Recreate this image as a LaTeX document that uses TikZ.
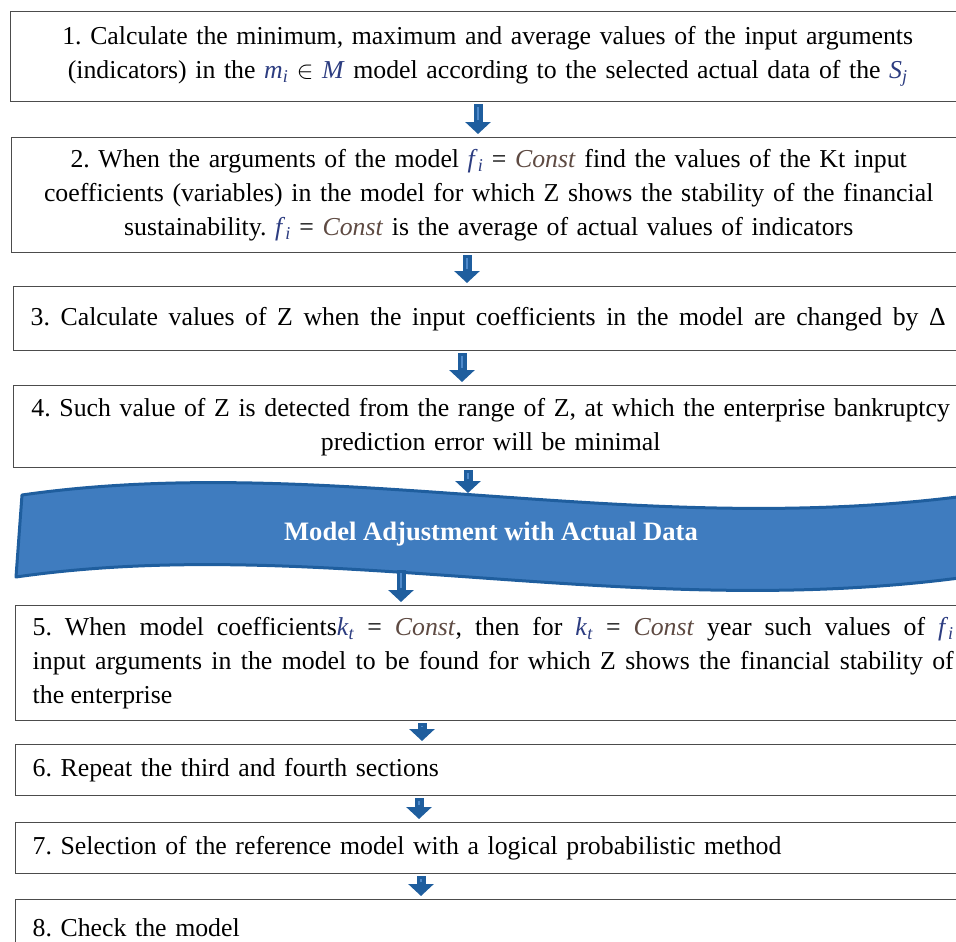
\documentclass[tikz,border=0pt]{standalone}
\usepackage{fontspec}
\setmainfont{Liberation Serif}
\usepackage{xcolor}
\usetikzlibrary{arrows.meta}
\frenchspacing
\definecolor{blue}{HTML}{3F7CBF}
\definecolor{darkblue}{HTML}{1F5E9E}
\definecolor{lightblue}{HTML}{4F8ACB}
\definecolor{varblue}{HTML}{2C3C80}
\definecolor{constbrown}{HTML}{5E4A42}
\tikzstyle{box}=[draw=black!70, line width=1.4pt, anchor=north west, inner xsep=17pt, inner ysep=0pt,
                 font=\fontsize{25.8}{34}\selectfont]
\tikzstyle{box center}=[box, align=center, text width=920pt]
\tikzstyle{box left}=[box, align=left, text width=921pt]
\tikzstyle{box just}=[box, align=justify]
\tikzstyle{wave}=[draw=darkblue, fill=blue, line width=3pt, line join=round]
\tikzstyle{wave text}=[white, font=\bfseries\fontsize{26.6}{34}\selectfont]
\tikzstyle{flow}=[darkblue, line width=9pt, -{Triangle[width=25pt, length=12pt]}, shorten <=2pt, shorten >=3pt,
                  postaction={draw=lightblue, line width=2.5pt, -, shorten <=5pt, shorten >=17pt}]

\begin{document}
\begin{tikzpicture}[x=1pt, y=-1pt]
      \clip (0,0) rectangle (956,942);
      % SYMBOLS
      \def\mv#1{{\color{varblue}\textit{#1}}}
      \def\vr#1#2{\mv{#1}\textsubscript{\mv{#2}}}
      \def\cst{{\color{constbrown}\textit{Const}}}

      % UPPER STEPS
      \node[box center, minimum width=950pt, minimum height=90pt] (b1) at (10,11)
        {1. Calculate the minimum, maximum and average values of the input arguments\\
         (indicators) in the \vr{m}{i} $\in$ \mv{M} model according to the selected actual data of the \vr{S}{j}};
      \node[box center, minimum width=949pt, minimum height=115pt] (b2) at (11,137)
        {2. When the arguments of the model \vr{f}{i} = \cst{} find the values of the Kt input\\
         coefficients (variables) in the model for which Z shows the stability of the financial\\
         sustainability. \vr{f}{i} = \cst{} is the average of actual values of indicators};
      \node[box, minimum width=947pt, minimum height=64pt] (b3) at (13,286)
        {\rule{0pt}{20pt}\makebox[915pt][s]{3. Calculate values of Z when the input coefficients in the model are changed by Δ}};
      \node[box center, minimum width=947pt, minimum height=82pt] (b4) at (13,385)
        {4. Such value of Z is detected from the range of Z, at which the enterprise bankruptcy\\
         prediction error will be minimal};

      % BANNER
      \draw[wave] (22,495) .. controls (330,451) and (640,542) .. (980,494)
        -- (974,576) .. controls (634,624) and (324,533) .. (16,577) -- cycle;
      \node[wave text] (adjust) at (491,534) {Model Adjustment with Actual Data};
      \coordinate (wave in) at (468,496);
      \coordinate (wave out) at (401,568);

      % LOWER STEPS
      \node[box just, text width=921pt, minimum height=115pt] (b5) at (15,605)
        {5. When model coefficients\vr{k}{t} = \cst, then for \vr{k}{t} = \cst{} year such values of \vr{f}{i}\linebreak
         input arguments in the model to be found for which Z shows the financial stability of\linebreak
         the enterprise};
      \node[box left, minimum height=51pt] (b6) at (15,744) {6. Repeat the third and fourth sections};
      \node[box left, minimum height=51pt] (b7) at (15,822) {7. Selection of the reference model with a logical probabilistic method};
      \node[box left, minimum height=57pt] (b8) at (15,899) {8. Check the model};

      % ARROWS
      \foreach \a/\b/\x in {b1/b2/478, b2/b3/467, b3/b4/462, b5/b6/422, b6/b7/419, b7/b8/421}{
        \draw[flow] (\a.south -| \x,0) -- (\b.north -| \x,0);
      }
      \draw[flow] (b4.south -| 468,0) -- (wave in);
      \draw[flow] (wave out) -- (b5.north -| 401,0);
    \end{tikzpicture}
\end{document}
